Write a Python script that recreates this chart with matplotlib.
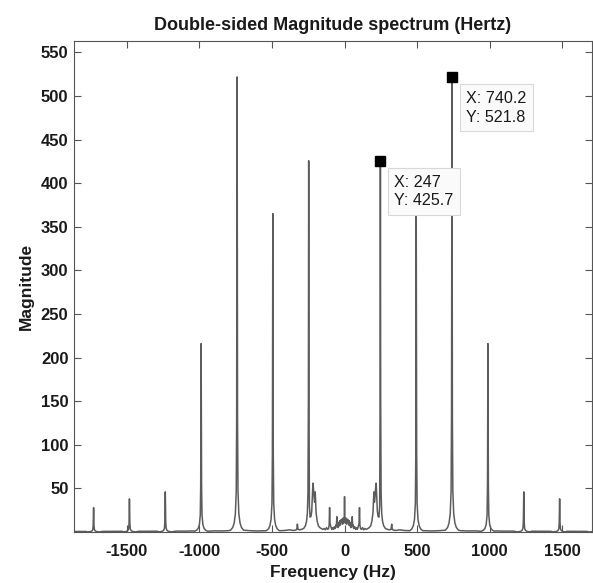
import matplotlib.pyplot as plt
import numpy as np

plt.rcParams['font.family'] = ['Liberation Sans', 'DejaVu Sans']
plt.rcParams['axes.unicode_minus'] = False

# low-frequency part of the one-sided spectrum (Hz, magnitude)
low_freq = [0, 1.5, 4, 7, 10, 13, 17, 21, 25, 28, 32, 36, 40, 44, 48, 53, 56, 60, 64,
            70, 76, 82, 88, 94, 100, 103, 106, 110, 116, 124, 132, 140, 150, 160, 170,
            180, 188, 196, 202, 206, 210, 214, 218, 222, 226, 231, 237, 242, 245, 247,
            249, 252, 256, 262, 270, 282, 296, 310, 320, 325, 328, 332, 342, 355]
low_mag = [40.5, 12, 15, 10, 16, 9, 15, 11, 14, 8, 13, 7, 11, 5, 9, 17.5, 6, 8, 4,
           6, 3, 5, 3, 6, 10, 28, 8, 4, 3, 5, 2.5, 4, 3, 4, 5,
           7, 12, 22, 46, 34, 40, 50, 56, 40, 24, 18, 17, 30, 150, 425.7,
           150, 45, 22, 12, 7, 4, 3, 2.5, 3, 9, 4, 2.5, 2, 1.8]

# harmonics of ~247 Hz
harm_freq = [494, 740.2, 988, 1235, 1482, 1729]
harm_mag = [365, 521.8, 216, 46, 38, 28]

# skirt of one peak, relative to its height
skirt_df = [-45, -30, -20, -12, -6, -3, 0, 3, 6, 12, 20, 30, 45]
skirt_rel = [0.004, 0.01, 0.02, 0.04, 0.09, 0.25, 1, 0.25, 0.09, 0.04, 0.02, 0.01, 0.004]

# floor between the peaks
base_freq = [380, 410, 440, 550, 600, 650, 800, 850, 900, 1040, 1100, 1160,
             1290, 1350, 1420, 1530, 1600, 1670, 1780, 1830, 1870]
base_mag = [2.5, 1.8, 1.5, 1.5, 1.2, 1.5, 1.5, 1.2, 1.3, 1.2, 1.0, 1.0,
            0.9, 0.8, 0.8, 0.8, 0.7, 0.7, 0.6, 0.6, 0.6]

# data tips
tip_x = [247, 740.2]
tip_y = [425.7, 521.8]

# build one-sided spectrum
f = list(low_freq) + list(base_freq)
m = list(low_mag) + list(base_mag)
for hf, hm in zip(harm_freq, harm_mag):
    for d, r in zip(skirt_df, skirt_rel):
        f.append(hf + d)
        m.append(hm * r)
f = np.array(f)
m = np.array(m)
order = np.argsort(f)
f, m = f[order], m[order]

# mirror to double-sided
freq = np.concatenate([-f[:0:-1], f])
mag = np.concatenate([m[:0:-1], m])

W, H = 593, 583
fig = plt.figure(figsize=(W / 100, H / 100), dpi=100)
ax = fig.add_axes([74 / W, 1 - 532 / H, (592 - 74) / W, (532 - 41) / H])

ax.plot(freq, mag, color='#5c5c5c', lw=1.1)
ax.plot(tip_x, tip_y, 's', color='k', ms=7.5, zorder=5)

for x, y in zip(tip_x, tip_y):
    ax.annotate(f'X: {x:g}\nY: {y:g}', xy=(x, y), xytext=(14, -14),
                textcoords='offset pixels', ha='left', va='top',
                fontsize=11.6, linespacing=1.3, color='#1a1a1a', zorder=6,
                bbox=dict(boxstyle='square,pad=0.4', fc='#fafafa', ec='#d8d8d8', lw=0.8))

ax.set_xlim(-1864, 1705)
ax.set_ylim(0, 563)
ax.set_xticks(np.arange(-1500, 1501, 500))
ax.set_yticks(np.arange(50, 551, 50))

ax.tick_params(direction='in', top=True, right=True, length=5, width=0.8,
               color='#555555', labelsize=12, labelcolor='#1a1a1a')
ax.tick_params(axis='x', pad=9)
ax.tick_params(axis='y', pad=4)
for lbl in ax.get_xticklabels() + ax.get_yticklabels():
    lbl.set_fontweight('bold')
for s in ax.spines.values():
    s.set_color('#555555')
    s.set_linewidth(0.8)

ax.set_title('Double-sided Magnitude spectrum (Hertz)', fontsize=13,
             fontweight='bold', pad=8, color='#1a1a1a')
ax.set_xlabel('Frequency (Hz)', fontsize=12.5, fontweight='bold', labelpad=4, color='#1a1a1a')
ax.set_ylabel('Magnitude', fontsize=12.5, fontweight='bold', labelpad=5, color='#1a1a1a')

fig.savefig('out.png', dpi=100)
